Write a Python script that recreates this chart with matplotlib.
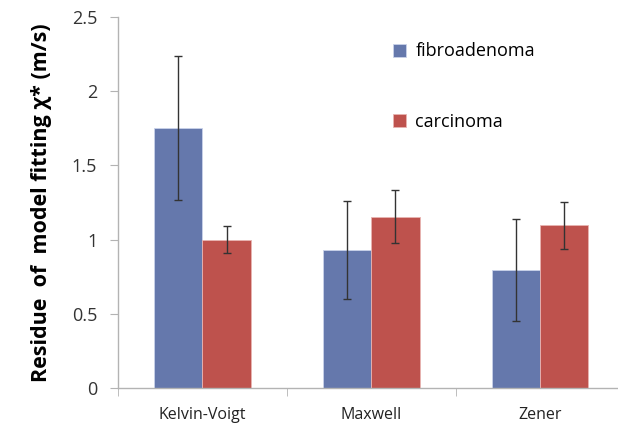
import numpy as np
import matplotlib
matplotlib.use("Agg")
import matplotlib.pyplot as plt

plt.rcParams["font.family"] = ["Open Sans", "DejaVu Sans"]

models = ["Kelvin-Voigt", "Maxwell", "Zener"]
fibro = [1.75, 0.93, 0.795]
fibro_err = [0.485, 0.33, 0.345]
carc = [1.00, 1.155, 1.095]
carc_err = [0.09, 0.18, 0.16]

blue = "#6578AC"
red = "#BE524D"
grey = "#B3B3B3"

fig = plt.figure(figsize=(6.18, 4.33), dpi=100)
ax = fig.add_axes([0.191, 0.104, 0.82, 0.857])

x = np.arange(len(models))
w = 0.285
ekw = dict(ecolor="#333333", elinewidth=1.0, capsize=3, capthick=1.0)
ax.bar(x - w / 2, fibro, w, yerr=fibro_err, color=blue, edgecolor="#C9D2EA",
       linewidth=0.6, label="fibroadenoma", error_kw=ekw)
ax.bar(x + w / 2, carc, w, yerr=carc_err, color=red, edgecolor="#E8B4B2",
       linewidth=0.6, label="carcinoma", error_kw=ekw)

ax.set_xlim(-0.5, len(models) - 0.5)
ax.set_ylim(0, 2.5)
ax.set_yticks([0, 0.5, 1, 1.5, 2, 2.5])
ax.set_yticklabels(["0", "0.5", "1", "1.5", "2", "2.5"])
ax.set_xticks(x)
ax.set_xticklabels(models)
ax.set_xticks(np.arange(len(models) + 1) - 0.5, minor=True)
ax.tick_params(axis="x", which="major", length=0, pad=14, labelsize=11.5,
               labelcolor="#222222")
ax.tick_params(axis="x", which="minor", length=6, color=grey, direction="out")
ax.tick_params(axis="y", length=6, color=grey, direction="out", pad=9,
               labelsize=13, labelcolor="#333333")

for s in ["top", "right"]:
    ax.spines[s].set_visible(False)
for s in ["left", "bottom"]:
    ax.spines[s].set_color(grey)
    ax.spines[s].set_linewidth(1.0)

ax.set_ylabel("Residue  of  model fitting χ* (m/s)", fontsize=15.5,
              fontweight="bold", labelpad=14)

leg = ax.legend(loc="upper left", bbox_to_anchor=(0.51, 0.975), frameon=False,
                fontsize=13, handlelength=0.75, handleheight=0.75,
                handletextpad=0.5, labelspacing=2.9)

fig.savefig("out.png", dpi=100)
